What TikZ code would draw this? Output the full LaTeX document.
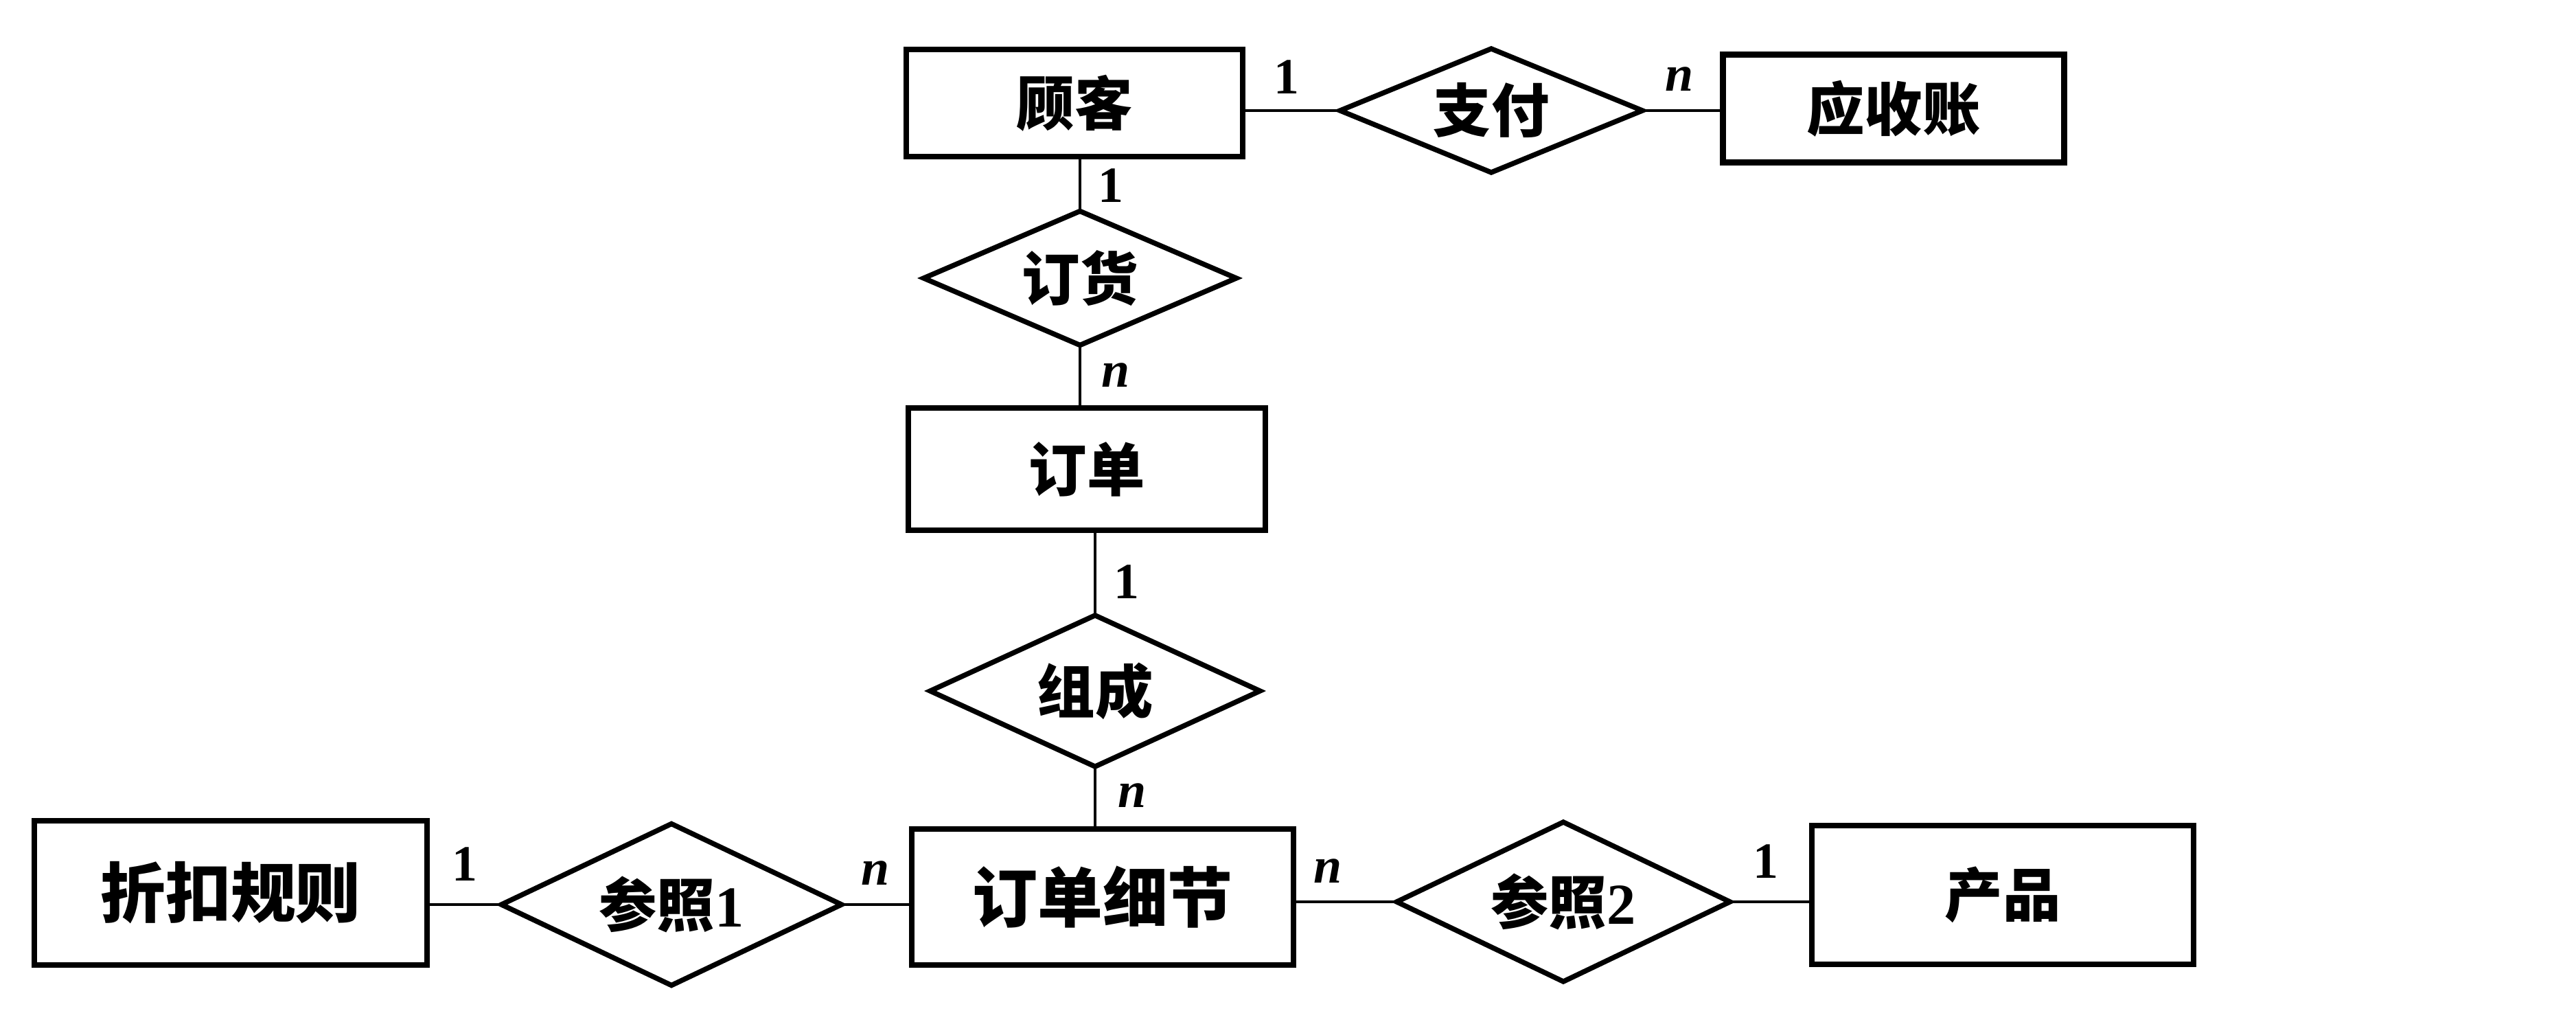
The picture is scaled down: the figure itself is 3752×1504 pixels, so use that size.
\documentclass[tikz,border=0pt]{standalone}
\usepackage{fontspec}
\setmainfont{Liberation Serif}
\newfontfamily\cjk{Noto Sans CJK SC}
\usetikzlibrary{shapes.geometric}
\tikzset{
  ent/.style={draw=black, line width=2.4pt, rectangle, inner sep=0pt, font=\cjk\bfseries\fontsize{24}{28}\selectfont},
  rel/.style={draw=black, line width=2.1pt, diamond, shape aspect=2.4, inner sep=0pt, outer sep=0pt, font=\cjk\bfseries\fontsize{24}{28}\selectfont},
  conn/.style={draw=black, line width=1.3pt},
  card/.style={inner sep=0pt, font=\bfseries\fontsize{21}{24}\selectfont},
}
\begin{document}
\begin{tikzpicture}[x=0.01cm, y=-0.01cm]
\useasboundingbox[fill=white] (0,0) rectangle (3752,1504);
% entities
\node[ent, minimum width=4.9cm, minimum height=1.56cm] (gk) at (1565,150) {顾客};
\node[ent, minimum width=4.97cm, minimum height=1.57cm] (ysz) at (2758,158) {应收账};
\node[ent, minimum width=5.2cm, minimum height=1.78cm] (dd) at (1583,683) {订单};
\node[ent, minimum width=5.56cm, minimum height=1.98cm, font=\cjk\bfseries\fontsize{27}{30}\selectfont] (ddxj) at (1606,1306) {订单细节};
\node[ent, minimum width=5.72cm, minimum height=2.1cm, font=\cjk\bfseries\fontsize{27}{30}\selectfont] (zkgz) at (336,1300) {折扣规则};
\node[ent, minimum width=5.56cm, minimum height=2.02cm] (cp) at (2917,1303) {产品};
% relationships
\node[rel, minimum width=4.4cm, minimum height=1.8cm] (zf) at (2172,161) {支付};
\node[rel, minimum width=4.55cm, minimum height=1.95cm] (dh) at (1573,405) {订货};
\node[rel, minimum width=4.8cm, minimum height=2.2cm] (zc) at (1595,1006) {组成};
\node[rel, minimum width=4.95cm, minimum height=2.35cm] (cz1) at (978,1317) {参照\textrm{\bfseries 1}};
\node[rel, minimum width=4.85cm, minimum height=2.32cm] (cz2) at (2277,1313) {参照\textrm{\bfseries 2}};
% connectors
\draw[conn] (gk.east |- zf.west) -- (zf.west);
\draw[conn] (zf.east) -- (zf.east -| ysz.west);
\draw[conn] (dh.north |- gk.south) -- (dh.north);
\draw[conn] (dh.south) -- (dh.south |- dd.north);
\draw[conn] (zc.north |- dd.south) -- (zc.north);
\draw[conn] (zc.south) -- (zc.south |- ddxj.north);
\draw[conn] (zkgz.east |- cz1.west) -- (cz1.west);
\draw[conn] (cz1.east) -- (cz1.east -| ddxj.west);
\draw[conn] (ddxj.east |- cz2.west) -- (cz2.west);
\draw[conn] (cz2.east) -- (cz2.east -| cp.west);
% cardinalities
\node[card] (c1) at (1874,112) {1};
\node[card] (c2) at (2446,115) {\itshape n};
\node[card] (c3) at (1618,270) {1};
\node[card] (c4) at (1625,546) {\itshape n};
\node[card] (c5) at (1641,847) {1};
\node[card] (c6) at (1649,1158) {\itshape n};
\node[card] (c7) at (677,1258) {1};
\node[card] (c8) at (1275,1271) {\itshape n};
\node[card] (c9) at (1934,1268) {\itshape n};
\node[card] (c10) at (2572,1254) {1};
\end{tikzpicture}
\end{document}
